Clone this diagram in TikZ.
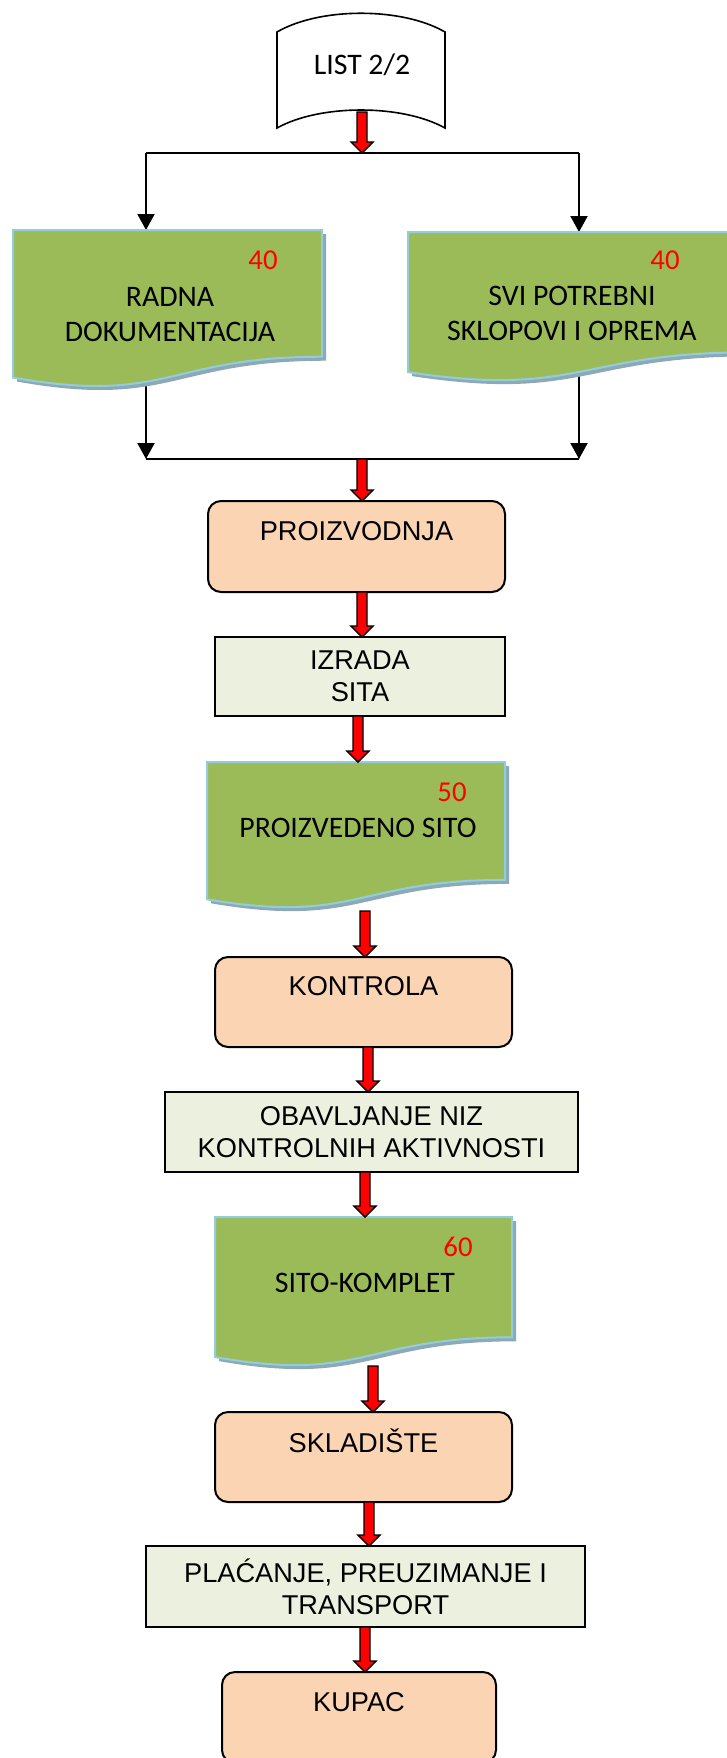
\documentclass[tikz,border=0pt]{standalone}
\usepackage{fontspec}
\setmainfont{Liberation Sans}
\newfontfamily\calibri{Carlito}
\usepackage{xcolor}
\usetikzlibrary{calc,arrows.meta}

\definecolor{docgreen}{HTML}{9BBB59}
\definecolor{docedge}{HTML}{93CDDD}
\definecolor{docshade}{HTML}{8DA8B6}
\definecolor{peach}{HTML}{FBD4B4}
\definecolor{palegreen}{HTML}{EBF1DE}

\newcommand{\arialtext}{\fontsize{13.6}{16}\selectfont}
\newcommand{\calibritext}{\calibri\fontsize{14.9}{17.5}\selectfont}
\newcommand{\calibrinum}{\calibri\fontsize{14.4}{17}\selectfont}

\tikzset{
  shapenode/.style={inner sep=0pt, outer sep=0pt},
  roundbox/.style={draw, line width=1pt, fill=peach, rounded corners=6.5pt,
    inner sep=0pt, outer sep=0pt, align=center, font=\arialtext},
  stepbox/.style={draw, line width=1pt, fill=palegreen,
    inner sep=0pt, outer sep=0pt, align=center, font=\arialtext},
  doctext/.style={align=center, inner sep=0pt, font=\calibritext},
  docnum/.style={inner sep=0pt, text=red, font=\calibrinum},
  docline/.style={draw=docedge, line width=1pt, fill=docgreen},
  docshadow/.style={fill=docshade},
  listline/.style={draw, line width=0.8pt, fill=white},
  thinline/.style={line width=1pt},
  thinarrow/.style={line width=1pt, -{Triangle[length=8pt,width=8.5pt]}},
  blockarrow/.style={draw, line width=0.7pt, fill=red, line join=miter}
}

% wavy document shape with its shadow, drawn on an empty node
\newcommand{\docshape}[1]{%
  \fill[docshadow] ($(#1.north west)+(4,4)$) -- ($(#1.north east)+(4,4)$)
    -- ($(#1.north east)!0.802!(#1.south east)+(4,4)$)
    .. controls ($(#1.north)!0.802!(#1.south)+(4,4)$) and ($(#1.north)!1.1075!(#1.south)+(4,4)$)
    .. ($(#1.north west)!0.934!(#1.south west)+(4,4)$) -- cycle;
  \path[docline] (#1.north west) -- (#1.north east)
    -- ($(#1.north east)!0.802!(#1.south east)$)
    .. controls ($(#1.north)!0.802!(#1.south)$) and ($(#1.north)!1.1075!(#1.south)$)
    .. ($(#1.north west)!0.934!(#1.south west)$) -- cycle;}

% fat red arrow: x from the start, down to the y of the end
\newcommand{\redarrow}[2]{%
  \draw[blockarrow] let \p1=(#1), \p2=(#2) in
    (\x1-2.5pt,\y1) -- (\x1-2.5pt,\y2+5.5pt) -- (\x1-5.5pt,\y2+5.5pt) -- (\x1,\y2)
    -- (\x1+5.5pt,\y2+5.5pt) -- (\x1+2.5pt,\y2+5.5pt) -- (\x1+2.5pt,\y1) -- cycle;}

\begin{document}
\begin{tikzpicture}[x=0.5pt, y=-0.5pt]
\useasboundingbox (0,0) rectangle (727,1758);

% sheet and the two input documents
\node[shapenode, minimum width=84pt, minimum height=57.5pt] (list) at (361,70.5) {};
\node[shapenode, minimum width=154.5pt, minimum height=79pt] (radna) at (167.5,309) {};
\node[shapenode, minimum width=171pt, minimum height=75pt] (svi) at (579,307) {};

\coordinate (split) at (362,153);
\coordinate (splitL) at (146,153);
\coordinate (splitR) at (579,153);
\coordinate (join) at (362,459);
\coordinate (joinL) at (146,459);
\coordinate (joinR) at (579,459);

\draw[thinline] (splitL) -- (splitR);
\draw[thinarrow] (splitL) -- (splitL |- radna.north);
\draw[thinarrow] (splitR) -- (svi.north);
\draw[thinarrow] (splitL |- radna.center) -- (joinL);
\draw[thinarrow] (svi.center) -- (joinR);
\draw[thinline] (joinL) -- (joinR);

\path[listline] ($(list.north west)+(0,19)$)
  .. controls ($(list.north west)+(43,-6)$) and ($(list.north east)+(-43,-6)$) .. ($(list.north east)+(0,19)$)
  -- (list.south east)
  .. controls ($(list.south east)+(-43,-24)$) and ($(list.south west)+(43,-24)$) .. (list.south west) -- cycle;
\node[doctext] (listT) at (362,65) {LIST 2/2};

\docshape{radna}
\docshape{svi}
\node[doctext] (radnaT) at (170,314.5) {RADNA\\DOKUMENTACIJA};
\node[docnum] (radnaN) at (263,260) {40};
\node[doctext] (sviT) at (572,313.5) {SVI POTREBNI\\SKLOPOVI I OPREMA};
\node[docnum] (sviN) at (665,260) {40};

% main flow
\node[roundbox, minimum width=148.5pt, minimum height=45.5pt] (proiz) at (356.5,546.5) {PROIZVODNJA\\\mbox{}};
\node[stepbox, minimum width=145pt, minimum height=39.5pt] (izrada) at (360,676.5) {IZRADA\\SITA};
\node[shapenode, minimum width=149pt, minimum height=73.5pt] (proizv) at (356,835.5) {};
\node[roundbox, minimum width=148.5pt, minimum height=45pt] (kontrola) at (363.5,1002) {KONTROLA\\\mbox{}};
\node[stepbox, minimum width=206.5pt, minimum height=40pt] (obavlj) at (371.5,1132) {OBAVLJANJE NIZ\\KONTROLNIH AKTIVNOSTI};
\node[shapenode, minimum width=148.5pt, minimum height=75pt] (sito) at (363.5,1292) {};
\node[roundbox, minimum width=148.5pt, minimum height=45pt] (sklad) at (363.5,1457) {SKLADIŠTE\\\mbox{}};
\node[stepbox, minimum width=219.5pt, minimum height=40.5pt] (placanje) at (365.5,1586.5) {PLAĆANJE, PREUZIMANJE I\\TRANSPORT};
\node[roundbox, minimum width=137pt, minimum height=45.5pt] (kupac) at (359,1717.5) {KUPAC\\\mbox{}};

\docshape{proizv}
\node[doctext] (proizvT) at (358,828) {PROIZVEDENO SITO};
\node[docnum] (proizvN) at (452,792) {50};
\docshape{sito}
\node[doctext] (sitoT) at (365,1283) {SITO-KOMPLET};
\node[docnum] (sitoN) at (458,1247) {60};

\redarrow{$(list.south)+(1,-16)$}{split}
\redarrow{join}{proiz.north}
\redarrow{$(proiz.south)+(5.5,0)$}{izrada.north}
\redarrow{$(izrada.south)+(-2,0)$}{proizv.north}
\redarrow{$(proizv.south)+(9,2)$}{kontrola.north}
\redarrow{$(kontrola.south)+(4.5,0)$}{obavlj.north}
\redarrow{$(obavlj.south)+(-6.5,0)$}{sito.north}
\redarrow{$(sito.south)+(9.5,-1)$}{sklad.north}
\redarrow{$(sklad.south)+(5.5,0)$}{placanje.north}
\redarrow{$(placanje.south)+(-0.5,0)$}{kupac.north}

\end{tikzpicture}
\end{document}
